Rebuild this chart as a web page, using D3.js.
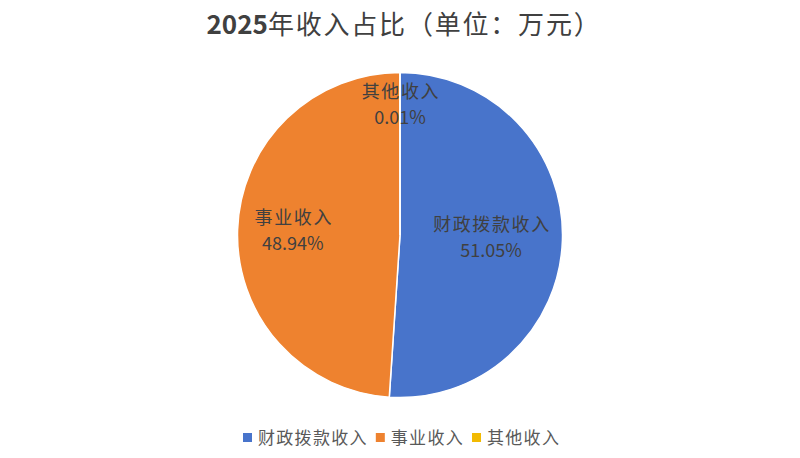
<!DOCTYPE html>
<html>
<head>
<meta charset="utf-8">
<script src="https://cdn.jsdelivr.net/npm/d3@7"></script>
<style>
  body { margin: 0; background: #fff; }
  text { font-family: "Noto Sans CJK SC", "Noto Sans", sans-serif; }
</style>
</head>
<body>
<div id="chart"></div>
<script>
// data
var categories = ["财政拨款收入", "事业收入", "其他收入"];
var values = [51.05, 48.94, 0.01];
var colors = ["#4874CB", "#EE822F", "#F2BA02"];

var width = 800, height = 458;
var cx = 400, cy = 235, radius = 162.5;
// where each data label sits, as a fraction of the radius
var labelPos = [0.56, 0.66, 0.8];

var svg = d3.select("#chart")
  .append("svg")
    .attr("width", width)
    .attr("height", height);

// title
var title = svg.append("text")
    .attr("x", width / 2 + 4)
    .attr("y", 34)
    .attr("text-anchor", "middle")
    .style("fill", "#404040")
    .style("font-size", "26px");
title.append("tspan").style("font-weight", "bold").text("2025");
title.append("tspan").style("font-weight", "normal")
    .style("letter-spacing", "1.8px")
    .text("年收入占比（单位：万元）");

var total = d3.sum(values);
var slices = d3.pie().sort(null).value(function(d) { return d; })(values);

var arc = d3.arc().innerRadius(0).outerRadius(radius);

var g = svg.append("g")
    .attr("transform", "translate(" + cx + "," + cy + ")");

g.selectAll("path")
    .data(slices)
  .enter().append("path")
    .attr("d", arc)
    .style("fill", function(d, i) { return colors[i]; })
    .style("stroke", "#fff")
    .style("stroke-width", "1.5px");

// data labels
var labels = g.selectAll("g.lbl")
    .data(slices)
  .enter().append("g")
    .attr("class", "lbl")
    .attr("transform", function(d, i) {
		var r = radius * labelPos[i];
		var a = (d.startAngle + d.endAngle) / 2;
		return "translate(" + (Math.sin(a) * r) + "," + (-Math.cos(a) * r) + ")";
    });

labels.append("text")
    .attr("x", 1)
    .attr("y", -7)
    .attr("text-anchor", "middle")
    .style("fill", "#404040")
    .style("font-size", "18px")
    .style("letter-spacing", "1.6px")
    .text(function(d, i) { return categories[i]; });

labels.append("text")
    .attr("y", 19)
    .attr("text-anchor", "middle")
    .style("fill", "#404040")
    .style("font-size", "18px")
    .text(function(d) { return (d.value / total * 100).toFixed(2) + "%"; });

// legend
var legend = svg.append("g").attr("transform", "translate(0,437)");
var lx = 243;
categories.forEach(function(c, i) {
	legend.append("rect")
	    .attr("x", lx)
	    .attr("y", -4)
	    .attr("width", 9)
	    .attr("height", 9)
	    .style("fill", colors[i]);
	var t = legend.append("text")
	    .attr("x", lx + 15)
	    .attr("y", 7)
	    .style("fill", "#595959")
	    .style("font-size", "17px")
	    .style("letter-spacing", "1.3px")
	    .text(c);
	lx += 15 + t.node().getComputedTextLength() + 8;
});
</script>
</body>
</html>
